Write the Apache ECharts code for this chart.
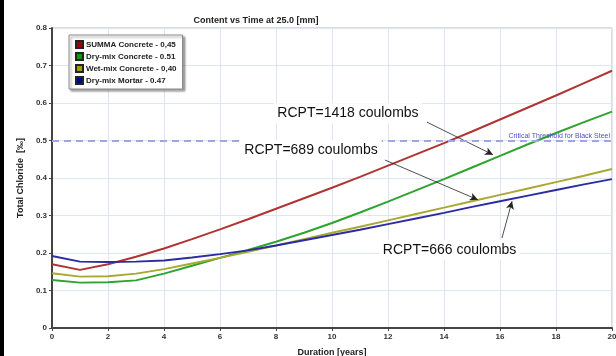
<!DOCTYPE html>
<html><head><meta charset="utf-8">
<script src="https://cdn.jsdelivr.net/npm/echarts@6/dist/echarts.min.js"></script>
<style>html,body{margin:0;padding:0;background:#fff}#c{width:616px;height:356px}</style>
</head><body><div id="c"></div>
<script>
const years = [0,1,2,3,4,5,6,7,8,9,10,11,12,13,14,15,16,17,18,19,20];
const summa = [0.170,0.155,0.170,0.190,0.212,0.237,0.263,0.290,0.318,0.346,0.374,0.403,0.433,0.463,0.493,0.524,0.556,0.588,0.620,0.653,0.686];
const dryConcrete = [0.128,0.121,0.122,0.127,0.145,0.166,0.187,0.208,0.230,0.254,0.280,0.308,0.337,0.367,0.397,0.428,0.459,0.490,0.520,0.549,0.577];
const wetConcrete = [0.146,0.137,0.138,0.145,0.157,0.172,0.187,0.203,0.220,0.237,0.254,0.270,0.287,0.304,0.321,0.338,0.355,0.372,0.389,0.406,0.424];
const dryMortar = [0.192,0.177,0.176,0.177,0.180,0.188,0.197,0.207,0.220,0.234,0.248,0.262,0.277,0.292,0.307,0.323,0.338,0.353,0.368,0.383,0.397];
const seriesNames = ['SUMMA Concrete - 0,45','Dry-mix Concrete - 0.51','Wet-mix Concrete - 0,40','Dry-mix Mortar - 0.47'];
const threshold = 0.5;
const annotations = [
  {text:'RCPT=1418 coulombs', from:[13.39,0.549], to:[15.75,0.462]},
  {text:'RCPT=689 coulombs', from:[11.89,0.448], to:[15.21,0.342]},
  {text:'RCPT=666 coulombs', from:[16.07,0.240], to:[16.43,0.338]}
];
const labelPos = [[10.57,0.573],[9.25,0.475],[14.2,0.208]];

const lineColors = ['#b03434','#2fa32f','#a8a832','#2b2ba3'];
const legendColors = ['#a00000','#00a000','#a0a000','#0000a0'];
const data = [summa,dryConcrete,wetConcrete,dryMortar];

const chart = echarts.init(document.getElementById('c'));
const series = data.map((arr,i)=>({
  name: seriesNames[i], type:'line', symbol:'none', smooth:false,
  lineStyle:{color:lineColors[i], width:2},
  itemStyle:{color:legendColors[i], borderColor:'#222', borderWidth:1},
  data: years.map((y,k)=>[y,arr[k]]),
  z: 3
}));
series.push({
  name:'annot', type:'line', data:[], silent:true,
  markLine:{
    silent:true, symbol:['none','arrow'], symbolSize:[6,8],
    lineStyle:{color:'#222', width:0.8, type:'solid'},
    label:{show:false},
    data: annotations.map(a=>[{coord:a.from},{coord:a.to}])
  }, z:6
});
series.push({
  name:'thr', type:'line', data:[], silent:true,
  markLine:{
    silent:true, symbol:['none','none'],
    lineStyle:{color:'#a3a3e6', width:2, type:[7,5]},
    label:{show:true, position:'insideEndTop', formatter:'Critical Threshold for Black Steel',
      fontSize:7, color:'#5050c0', fontFamily:'Liberation Sans', distance:[2,1]},
    data:[{yAxis:threshold}]
  }, z:2
});

const option = {
  animation:false,
  backgroundColor:'#fff',
  title:{text:'Content vs Time at 25.0 [mm]', left:251, top:11, textAlign:'center',
    textStyle:{fontSize:9, fontWeight:'bold', color:'#222', fontFamily:'Liberation Sans'}},
  grid:{left:52, top:28, right:4, bottom:28, show:true, borderColor:'#b8b8b8', borderWidth:1,
    outerBoundsMode:'none', containLabel:false},
  legend:{
    data: seriesNames, orient:'vertical', left:69, top:35, padding:[5,6,4,6],
    backgroundColor:'#fff', borderColor:'#888', borderWidth:1,
    shadowColor:'rgba(0,0,0,0.35)', shadowOffsetX:2, shadowOffsetY:2, shadowBlur:2,
    icon:'rect', itemWidth:7, itemHeight:7, itemGap:3,
    textStyle:{fontSize:8, fontWeight:'bold', color:'#222', fontFamily:'Liberation Sans', padding:[0,0,0,-2]}
  },
  xAxis:{type:'value', min:0, max:20, interval:2,
    name:'Duration [years]', nameLocation:'middle', nameGap:20,
    nameTextStyle:{fontSize:9, fontWeight:'bold', color:'#222', fontFamily:'Liberation Sans'},
    axisLine:{lineStyle:{color:'#444', width:2}},
    axisTick:{show:true, length:3, lineStyle:{color:'#444'}},
    axisLabel:{fontSize:8, fontWeight:'bold', color:'#333', margin:5, fontFamily:'Liberation Sans'},
    splitLine:{show:true, lineStyle:{color:'#dde7f4', width:1}}
  },
  yAxis:{type:'value', min:0, max:0.8, interval:0.1,
    name:'Total Chloride  [‰]', nameLocation:'middle', nameGap:21, nameRotate:90,
    nameTextStyle:{fontSize:9, fontWeight:'bold', color:'#222', fontFamily:'Liberation Sans'},
    axisLine:{show:true, lineStyle:{color:'#444', width:2}},
    axisTick:{show:true, length:3, lineStyle:{color:'#444'}},
    axisLabel:{fontSize:8, fontWeight:'bold', color:'#333', margin:5, fontFamily:'Liberation Sans',
      formatter:v=> v===0 ? '0' : v.toFixed(1)},
    splitLine:{show:true, lineStyle:{color:'#dde7f4', width:1}}
  },
  series: series
};
chart.setOption(option);

const graphics = [{type:'rect', left:0, top:0, shape:{width:4, height:356}, style:{fill:'#000'}, z:100}];
annotations.forEach((a,i)=>{
  const p = chart.convertToPixel({gridIndex:0}, labelPos[i]);
  graphics.push({type:'text', x:p[0], y:p[1], z:50,
    style:{text:a.text, fontSize:14, fontFamily:'Liberation Sans', fill:'#111',
      backgroundColor:'#fff', padding:[3,4,3,4], align:'center', verticalAlign:'middle'}});
});
chart.setOption({graphic:graphics});
</script></body></html>
